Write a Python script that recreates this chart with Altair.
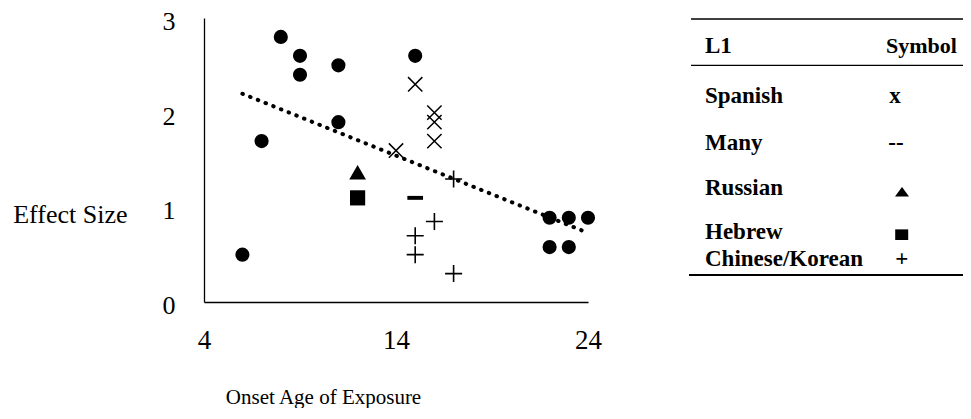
import altair as alt
import pandas as pd

# ---------------- data ----------------
other_x = [6, 7, 8, 9, 9, 11, 11, 15, 22, 23, 24, 22, 23]
other_y = [0.5, 1.7, 2.8, 2.6, 2.4, 2.5, 1.9, 2.6, 0.89, 0.89, 0.89, 0.58, 0.58]
spanish_x = [15, 16, 16, 16, 14]
spanish_y = [2.3, 2.0, 1.9, 1.7, 1.6]
chinese_korean_x = [17, 16, 15, 15, 17]
chinese_korean_y = [1.3, 0.85, 0.7, 0.5, 0.3]
russian_x = [12]
russian_y = [1.37]
hebrew_x = [12]
hebrew_y = [1.1]
many_x = [15]
many_y = [1.1]
trend_x = [6, 24]
trend_y = [2.20, 0.73]

x_ticks = [4, 14, 24]
y_ticks = [0, 1, 2, 3]
x_title = "Onset Age of Exposure"
y_title = "Effect Size"

legend_header = ["L1", "Symbol"]
legend_l1 = ["Spanish", "Many", "Russian", "Hebrew", "Chinese/Korean"]
legend_symbol = ["x", "--", "triangle", "square", "+"]

# ---------------- layout / style ----------------
W, H = 384, 284
PAD = {"left": 196, "top": 10, "right": 375, "bottom": 106}
SERIF = "Liberation Serif"

X_PATH = "M-1,-1L1,1M-1,1L1,-1"
PLUS_PATH = "M-1,0L1,0M0,-1L0,1"
TRI_PATH = "M0,-0.86L1,0.86L-1,0.86Z"
DASH_PATH = "M-1,-0.25L1,-0.25L1,0.25L-1,0.25Z"
LEG_TRI_PATH = "M0,-0.68L1,0.68L-1,0.68Z"
LEG_SQ_PATH = "M-1,-0.82L1,-0.82L1,0.82L-1,0.82Z"

xs = alt.Scale(domain=[4, 24], nice=False, zero=False)
ys = alt.Scale(domain=[0, 3], nice=False, zero=False)

x_axis = alt.Axis(values=x_ticks, grid=False, ticks=False, tickSize=0,
                  labelPadding=25, labelFontSize=27, labelFont=SERIF,
                  labelColor="black", labelAngle=0, labelFlush=False,
                  labelOverlap=False, domainColor="black", domainWidth=1.3,
                  title=x_title, titleFont=SERIF, titleFontSize=21,
                  titleFontWeight="normal", titleColor="black",
                  titleX=119, titleY=101, titleAlign="center",
                  titleBaseline="alphabetic")
y_axis = alt.Axis(values=y_ticks, grid=False, ticks=False, tickSize=0,
                  labelPadding=29, labelOffset=3.5, labelFontSize=26,
                  labelFont=SERIF, labelColor="black", labelFlush=False,
                  labelOverlap=False, domainColor="black", domainWidth=1.3,
                  title=y_title, titleFont=SERIF, titleFontSize=26,
                  titleFontWeight="normal", titleColor="black",
                  titleAngle=0, titleX=-77, titleY=204, titleAlign="right",
                  titleBaseline="alphabetic")


def xy(xv, yv):
    return alt.Chart(pd.DataFrame({"x": xv, "y": yv})).encode(
        x=alt.X("x:Q", scale=xs, axis=x_axis),
        y=alt.Y("y:Q", scale=ys, axis=y_axis),
    )


circles = xy(other_x, other_y).mark_circle(size=200, color="black", opacity=1)
spanish = xy(spanish_x, spanish_y).mark_point(
    shape=X_PATH, size=205, filled=False, color="black", strokeWidth=1.5, opacity=1)
chinese = xy(chinese_korean_x, chinese_korean_y).mark_point(
    shape=PLUS_PATH, size=289, filled=False, color="black", strokeWidth=1.6, opacity=1)
russian = xy(russian_x, russian_y).mark_point(
    shape=TRI_PATH, size=280, filled=True, color="black", opacity=1)
hebrew = xy(hebrew_x, hebrew_y).mark_point(
    shape="square", size=230, filled=True, color="black", opacity=1)
many = xy(many_x, many_y).mark_point(
    shape=DASH_PATH, size=246, filled=True, color="black", opacity=1)
trend = xy(trend_x, trend_y).mark_line(
    color="black", strokeWidth=4, strokeDash=[0.5, 7.8], strokeCap="round")

# ---------------- legend table (pixel layout relative to plot origin) ----------------
T_LEFT, T_RIGHT = 487, 759
COL1_X, COL2_X = 501, 682
HEADER_Y = 35
ROW_Y = [85.3, 132, 177, 221, 247.5]
SYM_X = [691, 692, 698, 697.7, 697.7]
SYM_MID_Y = [0, 0, 173.7, 216.7, 0]

PX = alt.X("px:Q", scale=None, axis=None)
PY = alt.Y("py:Q", scale=None, axis=None)

rules_thin = alt.Chart(pd.DataFrame({"px": [T_LEFT, T_LEFT], "px2": [T_RIGHT, T_RIGHT],
                                     "py": [1, 47.3]})).mark_rule(
    color="black", strokeWidth=1.3).encode(x=PX, x2="px2:Q", y=PY)
rule_thick = alt.Chart(pd.DataFrame({"px": [T_LEFT - 2], "px2": [T_RIGHT],
                                     "py": [257]})).mark_rule(
    color="black", strokeWidth=2).encode(x=PX, x2="px2:Q", y=PY)

col1 = pd.DataFrame({"t": [legend_header[0]] + legend_l1,
                     "px": [COL1_X] * (len(legend_l1) + 1),
                     "py": [HEADER_Y] + ROW_Y})
col1_text = alt.Chart(col1).mark_text(
    align="left", baseline="alphabetic", font=SERIF, fontWeight="bold",
    fontSize=23, color="black").encode(x=PX, y=PY, text="t:N")

head2 = alt.Chart(pd.DataFrame({"t": [legend_header[1]], "px": [COL2_X],
                                "py": [HEADER_Y]})).mark_text(
    align="left", baseline="alphabetic", font=SERIF, fontWeight="bold",
    fontSize=22, color="black").encode(x=PX, y=PY, text="t:N")

txt_idx = [i for i, s in enumerate(legend_symbol) if s not in ("triangle", "square")]
sym_text_df = pd.DataFrame({"t": [legend_symbol[i] for i in txt_idx],
                            "px": [SYM_X[i] for i in txt_idx],
                            "py": [ROW_Y[i] for i in txt_idx]})
sym_text = alt.Chart(sym_text_df).mark_text(
    align="center", baseline="alphabetic", font=SERIF, fontWeight="bold",
    fontSize=23, color="black").encode(x=PX, y=PY, text="t:N")

i_tri = legend_symbol.index("triangle")
i_sq = legend_symbol.index("square")
leg_tri = alt.Chart(pd.DataFrame({"px": [SYM_X[i_tri]], "py": [SYM_MID_Y[i_tri]]})).mark_point(
    shape=LEG_TRI_PATH, size=196, filled=True, color="black", opacity=1).encode(x=PX, y=PY)
leg_sq = alt.Chart(pd.DataFrame({"px": [SYM_X[i_sq]], "py": [SYM_MID_Y[i_sq]]})).mark_point(
    shape=LEG_SQ_PATH, size=169, filled=True, color="black", opacity=1).encode(x=PX, y=PY)

chart = alt.layer(
    circles, spanish, chinese, russian, hebrew, many, trend,
    rules_thin, rule_thick, col1_text, head2, sym_text, leg_tri, leg_sq,
).properties(
    width=W, height=H,
    autosize=alt.AutoSizeParams(type="none"),
    padding=PAD,
    background="white",
).configure_view(stroke=None)

chart.save("out.html", embed_options={"renderer": "svg", "actions": False})
